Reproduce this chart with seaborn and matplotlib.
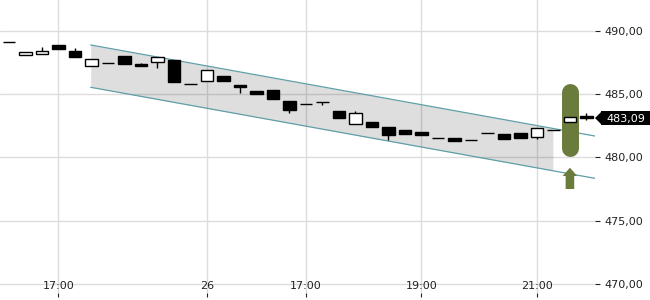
import numpy as np
import pandas as pd
import matplotlib
matplotlib.use("Agg")
import matplotlib.pyplot as plt
import matplotlib.transforms as mtransforms
from matplotlib.patches import Polygon, Rectangle
import seaborn as sns

# ---- data ----
opens = [489.09, 488.04, 488.12, 488.86, 488.38, 487.17, 487.46, 487.99, 487.36, 487.49,
         487.67, 485.75, 486.01, 486.41, 485.70, 485.22, 485.33, 484.44, 484.22, 484.33,
         483.65, 482.60, 482.78, 482.38, 482.15, 481.99, 481.54, 481.52, 481.36, 481.89,
         481.81, 481.89, 481.57, 482.17, 482.75, 483.23]
closes = [489.09, 488.28, 488.38, 488.56, 487.93, 487.73, 487.46, 487.38, 487.22, 487.88,
          485.96, 485.75, 486.88, 486.04, 485.52, 484.96, 484.62, 483.70, 484.22, 484.33,
          483.12, 483.46, 482.41, 481.73, 481.81, 481.73, 481.54, 481.30, 481.36, 481.89,
          481.41, 481.49, 482.28, 482.17, 483.17, 483.09]
highs = [489.09, 488.28, 488.67, 488.86, 488.60, 487.73, 487.46, 487.99, 487.46, 487.88,
         487.67, 485.75, 486.88, 486.41, 485.70, 485.22, 485.33, 484.44, 484.22, 484.33,
         483.65, 483.67, 482.78, 482.38, 482.15, 481.99, 481.54, 481.52, 481.36, 481.89,
         481.81, 481.89, 482.28, 482.17, 483.17, 483.51]
lows = [489.09, 488.04, 488.12, 488.56, 487.93, 487.17, 487.46, 487.38, 487.22, 487.06,
        485.96, 485.75, 486.01, 486.04, 485.09, 484.96, 484.62, 483.51, 484.22, 484.12,
        483.12, 482.60, 482.41, 481.38, 481.81, 481.73, 481.54, 481.30, 481.36, 481.89,
        481.41, 481.49, 481.44, 482.17, 482.75, 482.96]

tick_pos = [3, 12, 18, 25, 32]
tick_labels = ["17:00", "26", "17:00", "19:00", "21:00"]
ytick_vals = [470, 475, 480, 485, 490]
ytick_labels = ["470,00", "475,00", "480,00", "485,00", "490,00"]

# trend channel
chan_x = [4.95, 35.52]
chan_upper = [488.86, 481.67]
chan_lower = [485.52, 478.33]
fill_x = [4.95, 32.97]
fill_upper = [488.86, 482.27]
fill_lower = [485.52, 478.93]

# signal marker
signal_idx = 34
signal_range = [480.04, 485.78]
arrow_tip = 479.17
arrow_base = 477.49
last_price = 483.09
last_label = "483,09"

# ---- plot ----
sns.set_theme(style="white")
plt.rcParams['font.family'] = ['DejaVu Sans']

W, H = 650, 300
AX_W = 595
fig = plt.figure(figsize=(6.5, 3.0), dpi=100)
ax = fig.add_axes([0.0, 7 / H, AX_W / W, 293 / H])

n = len(opens)
idx = np.arange(n)
df = pd.DataFrame({"i": idx, "open": opens, "close": closes, "high": highs, "low": lows})

ax.set_xlim(-0.545, 35.52)
ax.set_ylim(469.28, 492.41)
px_per_unit = 293 / (492.41 - 469.28)

grid_c = "#dcdcdc"
for v in ytick_vals:
    ax.axhline(v, color=grid_c, lw=1.0, zorder=0)
for p in tick_pos:
    ax.axvline(p, color=grid_c, lw=1.0, zorder=0)

# channel fill + lines
ax.fill_between(fill_x, fill_lower, fill_upper, color="#000000", alpha=0.13, lw=0, zorder=1)
chan_df = pd.DataFrame({"x": chan_x * 2, "y": chan_upper + chan_lower,
                        "band": ["upper"] * 2 + ["lower"] * 2})
sns.lineplot(data=chan_df, x="x", y="y", units="band", estimator=None,
             color="#5f9fa8", lw=0.9, ax=ax, zorder=2)

# signal pill
green = "#6b7b3b"
r = 8.5 / px_per_unit
ax.plot([signal_idx, signal_idx], [signal_range[0] + r, signal_range[1] - r],
        color=green, lw=12.2, solid_capstyle="round", zorder=3)
ax.arrow(signal_idx, arrow_base, 0, arrow_tip - arrow_base, width=0.52,
         head_width=0.885, head_length=0.655, length_includes_head=True,
         color=green, lw=0, zorder=3)

# candles
up = df["close"] >= df["open"]
ax.vlines(df["i"], df["low"], df["high"], color="black", lw=1.0, zorder=4)
body_bottom = np.minimum(df["open"], df["close"])
body_h = np.abs(df["close"] - df["open"])
face = np.where(up, "white", "black")
ax.bar(df["i"], body_h, bottom=body_bottom, width=0.76, color=face,
       edgecolor="black", linewidth=1.0, zorder=5)

# axes styling
for s in ax.spines.values():
    s.set_visible(False)
ax.set_xticks(tick_pos)
ax.set_xticklabels(tick_labels)
ax.set_yticks(ytick_vals)
ax.set_yticklabels(ytick_labels)
ax.yaxis.tick_right()
ax.tick_params(axis="y", which="both", right=True, left=False, length=3.5, width=0.8,
               color="#222222", labelsize=8, labelcolor="#222222", pad=3, direction="out")
ax.tick_params(axis="x", which="both", bottom=True, length=3.2, width=0.8,
               color="#222222", labelsize=8, labelcolor="#222222", pad=-11.5, direction="out")
ax.set_xlabel("")
ax.set_ylabel("")
ax.grid(False)

# last price tag (pointed label at the right edge)
trans = mtransforms.blended_transform_factory(ax.transAxes, ax.transData)
half_h = 6.65 / px_per_unit
box_x0 = 1.0 + 6.7 / AX_W
box_x1 = 1.0 + (W - AX_W + 2) / AX_W
ax.add_patch(Polygon([(1.0, last_price), (box_x0, last_price + half_h),
                      (box_x0, last_price - half_h)], closed=True, transform=trans,
                     fc="black", ec="none", clip_on=False, zorder=9))
ax.add_patch(Rectangle((box_x0 - 0.0005, last_price - half_h), box_x1 - box_x0, 2 * half_h,
                       transform=trans, fc="black", ec="none", clip_on=False, zorder=9))
ax.text(1.0 + 11 / AX_W, last_price, last_label, transform=trans, ha="left", va="center_baseline",
        color="white", fontsize=8, clip_on=False, zorder=10)

fig.savefig("out.png", dpi=100)
